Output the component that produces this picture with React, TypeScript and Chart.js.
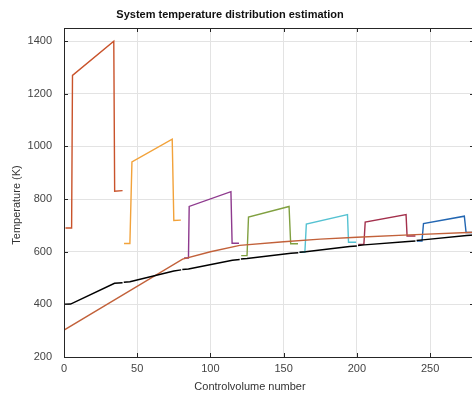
import React, { useEffect, useRef } from "react";
import { Chart, registerables } from "chart.js";

Chart.register(...registerables);

const TITLE = "System temperature distribution estimation";
const X_LABEL = "Controlvolume number";
const Y_LABEL = "Temperature (K)";

const xTicks = [0, 50, 100, 150, 200, 250];
const yTicks = [200, 400, 600, 800, 1000, 1200, 1400];

// Hot-side segments (one per 40 control volumes)
const seg1X = [1, 5.2, 5.8, 34, 34.6, 40];
const seg1T = [690, 690, 1270, 1400, 830, 832];
const seg2X = [41, 45, 46.4, 73.9, 75, 79.8];
const seg2T = [631, 631, 941, 1028, 719, 720];
const seg3X = [82, 85, 85.5, 114, 114.8, 119.5];
const seg3T = [576, 576, 772, 828, 632, 632];
const seg4X = [121, 125, 126, 153.7, 154.8, 159.8];
const seg4T = [585, 585, 732, 772, 630, 630];
const seg5X = [161, 164.5, 165.5, 193.6, 194.3, 199.5];
const seg5T = [598, 598, 705, 741, 636, 636];
const seg6X = [201, 204.8, 205.7, 233.6, 234.3, 240];
const seg6T = [628, 628, 713, 741, 660, 660];
const seg7X = [241, 244.5, 245.5, 273.4, 274.6, 280];
const seg7T = [641, 641, 707, 735, 673, 673];

// Cold-side (brown) line
const brownX = [0, 81, 100, 120, 150, 175, 200, 236, 280];
const brownT = [302, 572, 600, 624, 638, 648, 655, 664, 674];

// System (black) line, broken per segment
const blk1X = [0.5, 4.5, 34.5, 40];
const blk1T = [400, 401, 480, 482];
const blk2X = [40.8, 45, 75, 80];
const blk2T = [484, 486, 527, 531];
const blk3X = [80.8, 85, 115, 120];
const blk3T = [532, 534, 568, 570];
const blk4X = [120.8, 125, 155, 160];
const blk4T = [572, 574, 594, 596];
const blk5X = [160.8, 165, 195, 200];
const blk5T = [598, 600, 620, 622];
const blk6X = [200.8, 205, 235, 240];
const blk6T = [624, 626, 639, 641];
const blk7X = [240.8, 245, 275, 280];
const blk7T = [643, 645, 662, 664];

const segColors = ["#c9532b", "#f2a23a", "#8e3a8e", "#80a040", "#55c2d2", "#a3304c", "#2266b2"];
const segXs = [seg1X, seg2X, seg3X, seg4X, seg5X, seg6X, seg7X];
const segTs = [seg1T, seg2T, seg3T, seg4T, seg5T, seg6T, seg7T];
const blkXs = [blk1X, blk2X, blk3X, blk4X, blk5X, blk6X, blk7X];
const blkTs = [blk1T, blk2T, blk3T, blk4T, blk5T, blk6T, blk7T];

const FONT = "'Liberation Sans', Arial, Helvetica, sans-serif";

const toPts = (xs: number[], ys: number[]) => xs.map((x, i) => ({ x, y: ys[i] }));

const framePlugin = {
  id: "frameAndText",
  afterDatasetsDraw(chart: any) {
    const { ctx, chartArea } = chart;
    const { left, right, top, bottom } = chartArea;
    const xs = chart.scales.x;
    const ys = chart.scales.y;
    ctx.save();
    ctx.strokeStyle = "#262626";
    ctx.lineWidth = 1;
    ctx.beginPath();
    ctx.rect(Math.round(left) + 0.5, Math.round(top) + 0.5, Math.round(right - left), Math.round(bottom - top));
    ctx.stroke();
    const tl = 4;
    ctx.beginPath();
    xTicks.forEach((v) => {
      const px = Math.round(xs.getPixelForValue(v)) + 0.5;
      ctx.moveTo(px, bottom);
      ctx.lineTo(px, bottom - tl);
      ctx.moveTo(px, top);
      ctx.lineTo(px, top + tl);
    });
    yTicks.forEach((v) => {
      const py = Math.round(ys.getPixelForValue(v)) + 0.5;
      ctx.moveTo(left, py);
      ctx.lineTo(left + tl, py);
      ctx.moveTo(right, py);
      ctx.lineTo(right - tl, py);
    });
    ctx.stroke();
    ctx.restore();
  },
  afterDraw(chart: any) {
    const { ctx } = chart;
    ctx.save();
    ctx.textAlign = "center";
    ctx.textBaseline = "middle";
    ctx.fillStyle = "#111";
    ctx.font = `bold 11px ${FONT}`;
    ctx.fillText(TITLE, 230, 15);
    ctx.fillStyle = "#333";
    ctx.font = `11px ${FONT}`;
    ctx.fillText(X_LABEL, 250, 387);
    ctx.translate(17, 205);
    ctx.rotate(-Math.PI / 2);
    ctx.fillText(Y_LABEL, 0, 0);
    ctx.restore();
  },
};

export default function App() {
  const ref = useRef<HTMLCanvasElement | null>(null);
  useEffect(() => {
    if (!ref.current) return;
    const datasets: any[] = [];
    blkXs.forEach((xs, i) => {
      datasets.push({
        data: toPts(xs, blkTs[i]),
        borderColor: "#000000",
        borderWidth: 1.5,
        pointRadius: 0,
        tension: 0,
      });
    });
    datasets.push({
      data: toPts(brownX, brownT),
      borderColor: "#c2613a",
      borderWidth: 1.4,
      pointRadius: 0,
      tension: 0,
    });
    segXs.forEach((xs, i) => {
      datasets.push({
        data: toPts(xs, segTs[i]),
        borderColor: segColors[i],
        borderWidth: 1.4,
        pointRadius: 0,
        tension: 0,
      });
    });
    const chart = new Chart(ref.current, {
      type: "line",
      data: { datasets },
      options: {
        animation: false,
        responsive: false,
        maintainAspectRatio: false,
        layout: { padding: { left: 0, right: 6, top: 28, bottom: 0 } },
        plugins: { legend: { display: false }, title: { display: false }, tooltip: { enabled: false } },
        elements: { line: { borderJoinStyle: "miter" } },
        scales: {
          x: {
            type: "linear",
            min: 0,
            max: 280,
            afterFit: (s: any) => {
              s.height = 36;
            },
            ticks: {
              stepSize: 50,
              includeBounds: false,
              padding: 5,
              color: "#444",
              font: { family: FONT, size: 11 },
              maxRotation: 0,
              callback: (v: any) => String(v),
            },
            grid: { color: "#e3e3e3", lineWidth: 1, drawTicks: false },
            border: { display: false },
          },
          y: {
            type: "linear",
            min: 200,
            max: 1450,
            afterFit: (s: any) => {
              s.width = 64;
            },
            ticks: {
              stepSize: 200,
              includeBounds: false,
              padding: 12,
              color: "#444",
              font: { family: FONT, size: 11 },
              callback: (v: any) => String(v),
            },
            grid: { color: "#e3e3e3", lineWidth: 1, drawTicks: false },
            border: { display: false },
          },
        },
      },
      plugins: [framePlugin],
    });
    return () => chart.destroy();
  }, []);
  return (
    <div
      style={{
        position: "fixed",
        left: 0,
        top: 0,
        width: 472,
        height: 393,
        overflow: "hidden",
        background: "#fff",
      }}
    >
      <canvas ref={ref} width={480} height={393} style={{ display: "block" }} />
    </div>
  );
}
